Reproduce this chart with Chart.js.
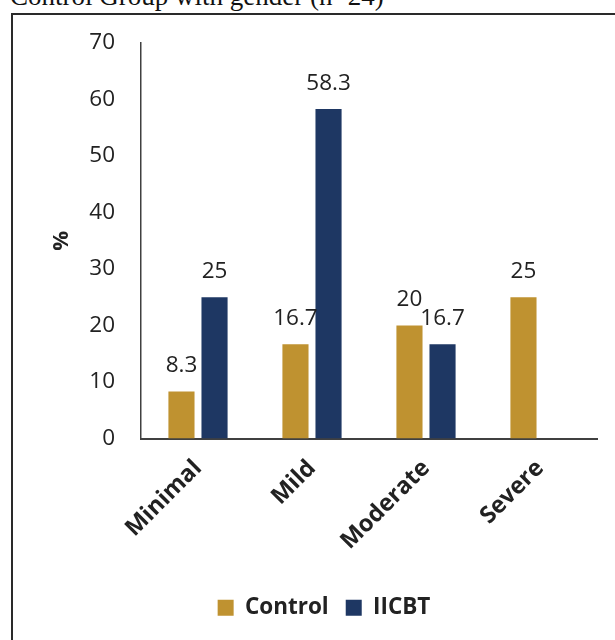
<!DOCTYPE html>
<html>
<head>
<meta charset="utf-8">
<script src="https://cdn.jsdelivr.net/npm/chart.js@4/dist/chart.umd.min.js"></script>
<style>
  html, body { margin: 0; padding: 0; background: #fff; overflow: hidden; width: 615px; height: 640px; }
  #title { position: absolute; left: 10px; top: -22px; font-family: "Liberation Serif", serif; font-size: 27px; color: #111; white-space: nowrap; line-height: 36px; }
  #frame { position: absolute; left: 11px; top: 13px; width: 700px; height: 700px; border-left: 2px solid #2a2a2a; border-top: 2px solid #2a2a2a; }
  #wrap { position: absolute; left: 13px; top: 15px; width: 622px; height: 625px; }
  canvas { display: block; }
</style>
</head>
<body>
<div id="title">Control Group with gender (n=24)</div>
<div id="frame"></div>
<div id="wrap"><canvas id="c" width="622" height="625"></canvas></div>
<script>
const categories = ["Minimal", "Mild", "Moderate", "Severe"];
const controlValues = [8.3, 16.7, 20, 25];
const iicbtValues = [25, 58.3, 16.7, null];
const yTicks = [0, 10, 20, 30, 40, 50, 60, 70];

const textColor = "#222222";
const FONT = "'Open Sans', sans-serif";

const valueLabels = {
  id: "valueLabels",
  afterDatasetsDraw(chart) {
    const ctx = chart.ctx;
    ctx.save();
    ctx.font = "22.5px " + FONT;
    ctx.fillStyle = textColor;
    ctx.textAlign = "center";
    ctx.textBaseline = "middle";
    chart.data.datasets.forEach((ds, di) => {
      const meta = chart.getDatasetMeta(di);
      meta.data.forEach((el, i) => {
        const v = ds.data[i];
        if (v === null || v === undefined) return;
        ctx.fillText(String(v), el.x, el.y - 26);
      });
    });
    ctx.restore();
  }
};

new Chart(document.getElementById("c"), {
  type: "bar",
  data: {
    labels: categories,
    datasets: [
      { label: "Control", data: controlValues, backgroundColor: "#BF9230", categoryPercentage: 0.58, barPercentage: 0.79 },
      { label: "IICBT", data: iicbtValues, backgroundColor: "#1E3763", categoryPercentage: 0.58, barPercentage: 0.79 }
    ]
  },
  options: {
    responsive: false,
    animation: false,
    layout: { padding: { top: 28, right: 38, left: 38, bottom: 11 } },
    plugins: {
      legend: {
        position: "bottom",
        labels: {
          color: textColor,
          font: { family: FONT, size: 22.5, weight: "bold" },
          boxWidth: 16,
          boxHeight: 16,
          padding: 17
        }
      },
      tooltip: { enabled: false }
    },
    scales: {
      x: {
        grid: { display: false, drawTicks: false },
        border: { display: true, color: "#404040", width: 2 },
        ticks: {
          color: textColor,
          font: { family: FONT, size: 23.5, weight: "bold" },
          minRotation: 45,
          maxRotation: 45,
          padding: 16
        },
        afterFit(scale) { scale.height = 141; }
      },
      y: {
        min: 0,
        max: 70,
        afterBuildTicks(scale) { scale.ticks = yTicks.map(v => ({ value: v })); },
        grid: { display: false, drawTicks: true, tickLength: 16 },
        border: { display: true, color: "#404040", width: 1.5 },
        ticks: {
          color: textColor,
          font: { family: FONT, size: 22.5 },
          padding: 10
        },
        title: {
          display: true,
          text: "%",
          color: textColor,
          font: { family: FONT, size: 22, weight: "bold", lineHeight: 1 },
          padding: { top: 0, bottom: 0 }
        },
        afterFit(scale) { scale.width = 90; }
      }
    }
  },
  plugins: [valueLabels]
});
</script>
</body>
</html>
